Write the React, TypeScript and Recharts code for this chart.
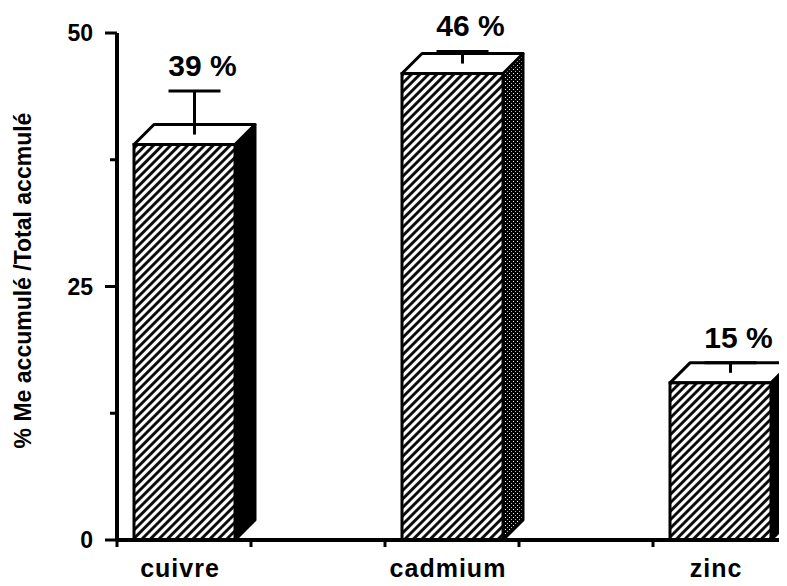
import { Bar, BarChart, Label, XAxis, YAxis } from "recharts";

const metals = ["cuivre", "cadmium", "zinc"];
const slots = [0.5, 2.5, 4.5]; // category centres on the 0..5 axis
const shares = [39, 46, 15.5];
const errors = [4.3, 1.2, 1];
const shareLabels = ["39 %", "46 %", "15 %"];
const yTicks = [0, 12.5, 25, 37.5, 50];
const yLabelled = [0, 25, 50];
const xTicks = [0, 1, 2, 3, 4, 5];

const data = metals.map((metal, i) => ({
  metal,
  slot: slots[i],
  share: shares[i],
  err: errors[i],
  label: shareLabels[i],
}));

const FONT = '"Liberation Sans", Arial, Helvetica, sans-serif';
const DEPTH = 20;

function Box3D(props: any) {
  const { x, y, width: w, height: h, payload } = props;
  const perUnit = h / payload.share;
  const d = DEPTH;
  const cx = x + w / 2 + d / 2;
  const errBase = y - d / 2;
  const errTop = y - payload.err * perUnit - d / 2;
  const top = Math.min(errTop, y - d);
  const side = payload.metal === "cadmium" ? "url(#stipple)" : "#000";
  return (
    <g>
      <polygon
        points={`${x + w},${y} ${x + w + d},${y - d} ${x + w + d},${y + h - d} ${x + w},${y + h}`}
        fill={side}
        stroke="#000"
        strokeWidth={3}
        strokeLinejoin="round"
      />
      <polygon
        points={`${x},${y} ${x + d},${y - d} ${x + w + d},${y - d} ${x + w},${y}`}
        fill="#fff"
        stroke="#000"
        strokeWidth={3}
        strokeLinejoin="round"
      />
      <rect x={x} y={y} width={w} height={h} fill="url(#hatch)" stroke="#000" strokeWidth={3} />
      <line x1={cx} y1={errBase} x2={cx} y2={errTop} stroke="#000" strokeWidth={3} />
      <line x1={cx - 26} y1={errTop} x2={cx + 26} y2={errTop} stroke="#000" strokeWidth={3} />
      <text
        x={x + w / 2 + 18}
        y={top - 15}
        textAnchor="middle"
        fontFamily={FONT}
        fontWeight="bold"
        fontSize={30}
        fill="#000"
      >
        {payload.label}
      </text>
    </g>
  );
}

function YTick(props: any) {
  const { x, y, payload } = props;
  const major = yLabelled.includes(payload.value);
  return (
    <g>
      <line x1={x - (major ? 12 : 7)} y1={y} x2={x} y2={y} stroke="#000" strokeWidth={3} />
      {major && (
        <text
          x={x - 24}
          y={y}
          dy="0.36em"
          textAnchor="end"
          fontFamily={FONT}
          fontWeight="bold"
          fontSize={23}
          fill="#000"
        >
          {payload.value}
        </text>
      )}
    </g>
  );
}

function XTick(props: any) {
  const { x, y, payload } = props;
  const idx = slots.indexOf(payload.value);
  if (idx >= 0) {
    return (
      <text
        x={x - 4}
        y={y + 37}
        textAnchor="middle"
        fontFamily={FONT}
        fontWeight="bold"
        fontSize={25}
        letterSpacing={1}
        fill="#000"
      >
        {metals[idx]}
      </text>
    );
  }
  return <line x1={x} y1={y} x2={x} y2={y + 7} stroke="#000" strokeWidth={3} />;
}

export default function App() {
  return (
    <div style={{ margin: -8, width: 787, height: 586, background: "#fff" }}>
      <BarChart
        width={787}
        height={586}
        data={data}
        margin={{ top: 33, right: 0, bottom: 0, left: 0 }}
      >
        <defs>
          <pattern
            id="hatch"
            patternUnits="userSpaceOnUse"
            width={6}
            height={6}
            patternTransform="rotate(45)"
          >
            <rect width={6} height={6} fill="#fff" />
            <line x1={1.5} y1={0} x2={1.5} y2={6} stroke="#000" strokeWidth={2.8} />
          </pattern>
          <pattern id="stipple" patternUnits="userSpaceOnUse" width={4} height={4}>
            <rect width={4} height={4} fill="#000" />
            <rect x={1} y={1} width={1} height={1} fill="#fff" />
            <rect x={3} y={3} width={1} height={1} fill="#bbb" />
          </pattern>
        </defs>
        <XAxis
          dataKey="slot"
          type="number"
          domain={[0, 5]}
          ticks={[...xTicks, ...slots].sort((a, b) => a - b)}
          interval={0}
          height={46}
          tickSize={0}
          tickMargin={0}
          tickLine={false}
          tick={<XTick />}
          axisLine={{ stroke: "#000", strokeWidth: 4 }}
        />
        <YAxis
          type="number"
          domain={[0, 50]}
          ticks={yTicks}
          interval={0}
          width={117}
          tickSize={0}
          tickMargin={0}
          tickLine={false}
          tick={<YTick />}
          axisLine={{ stroke: "#000", strokeWidth: 4 }}
        >
          <Label
            content={({ viewBox }: any) => {
              const cy = viewBox.y + viewBox.height / 2 - 6;
              return (
                <text
                  transform={`translate(23, ${cy}) rotate(-90)`}
                  textAnchor="middle"
                  dominantBaseline="central"
                  fontFamily={FONT}
                  fontWeight="bold"
                  fontSize={23}
                  fill="#000"
                >
                  % Me accumulé /Total accmulé
                </text>
              );
            }}
          />
        </YAxis>
        <Bar dataKey="share" barSize={101} shape={<Box3D />} isAnimationActive={false} />
      </BarChart>
    </div>
  );
}
